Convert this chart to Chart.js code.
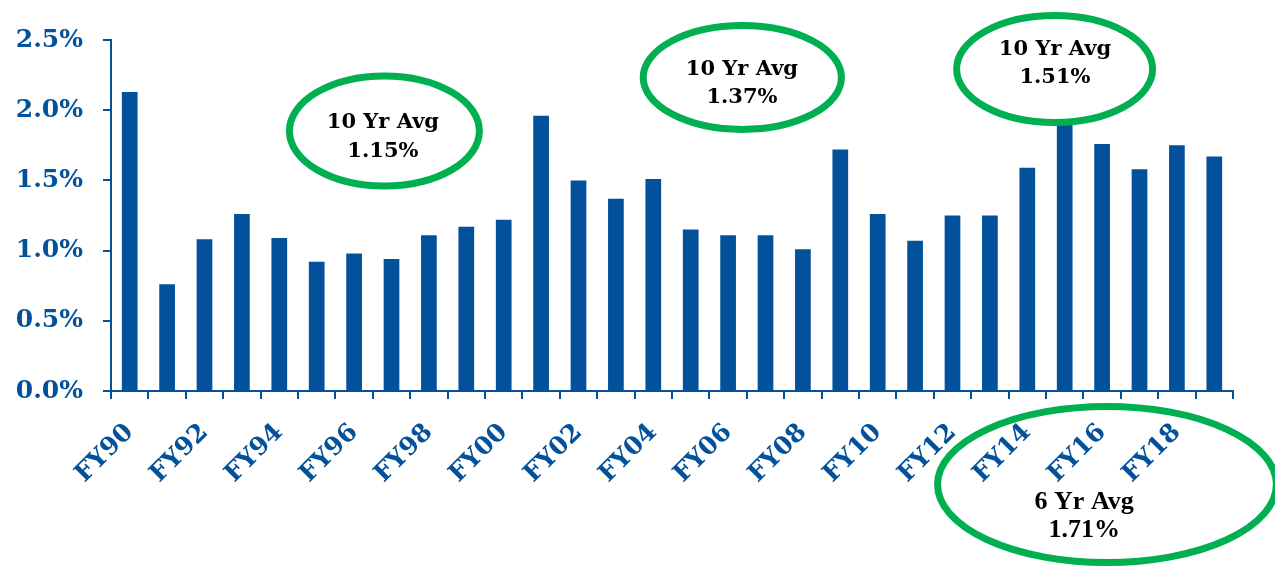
<!DOCTYPE html>
<html>
<head>
<meta charset="utf-8">
<script src="https://cdn.jsdelivr.net/npm/chart.js@4.4.1/dist/chart.umd.min.js"></script>
<style>
  html, body { margin: 0; padding: 0; background: #ffffff; }
  #wrap { width: 1275px; height: 572px; position: relative; }
</style>
</head>
<body>
<div id="wrap"><canvas id="chart" width="1275" height="572"></canvas></div>
<script>
// Fiscal years FY90 .. FY19
const fiscalYears = ['FY90','FY91','FY92','FY93','FY94','FY95','FY96','FY97','FY98','FY99',
                     'FY00','FY01','FY02','FY03','FY04','FY05','FY06','FY07','FY08','FY09',
                     'FY10','FY11','FY12','FY13','FY14','FY15','FY16','FY17','FY18','FY19'];

// Annual rate, percent
const annualRate = [2.13, 0.76, 1.08, 1.26, 1.09, 0.92, 0.98, 0.94, 1.11, 1.17,
                    1.22, 1.96, 1.50, 1.37, 1.51, 1.15, 1.11, 1.11, 1.01, 1.72,
                    1.26, 1.07, 1.25, 1.25, 1.59, 1.93, 1.76, 1.58, 1.75, 1.67];

// Value axis ticks, percent
const yTicks = [0, 0.5, 1.0, 1.5, 2.0, 2.5];

// Period-average callouts
const avgTitles = ['10 Yr Avg', '10 Yr Avg', '10 Yr Avg', '6 Yr Avg'];
const avgValues = ['1.15%', '1.37%', '1.51%', '1.71%'];

const BLUE = '#03519A';
const GREEN = '#00B050';

// Callout placement in scale units (category index / percent)
const calloutShapes = [
  { cx: 6.81,  cy: 1.852, rx: 2.54, ry: 0.392, tx: 6.77,  ty: 1.81,  font: 'bold 21px "DejaVu Serif"', gap: 29 },
  { cx: 16.38, cy: 2.233, rx: 2.65, ry: 0.370, tx: 16.37, ty: 2.19,  font: 'bold 21px "DejaVu Serif"', gap: 28 },
  { cx: 24.73, cy: 2.293, rx: 2.62, ry: 0.381, tx: 24.74, ty: 2.329, font: 'bold 21px "DejaVu Serif"', gap: 28 },
  { cx: 26.13, cy: -0.666, rx: 4.53, ry: 0.556, tx: 25.52, ty: -0.894, font: 'bold 26px "Liberation Serif"', gap: 28 }
];

const calloutPlugin = {
  id: 'callouts',
  afterDraw(chart) {
    const { ctx, scales: { x, y } } = chart;
    const unitX = x.getPixelForValue(1) - x.getPixelForValue(0);
    const unitY = y.getPixelForValue(0) - y.getPixelForValue(1);
    ctx.save();
    calloutShapes.forEach((s, i) => {
      const cx = x.getPixelForValue(s.cx);
      const cy = y.getPixelForValue(s.cy);
      ctx.beginPath();
      ctx.ellipse(cx, cy, s.rx * unitX, s.ry * unitY, 0, 0, Math.PI * 2);
      ctx.strokeStyle = GREEN;
      ctx.lineWidth = 7;
      ctx.stroke();

      const tx = x.getPixelForValue(s.tx);
      const ty = y.getPixelForValue(s.ty);
      ctx.fillStyle = '#000000';
      ctx.font = s.font;
      ctx.textAlign = 'center';
      ctx.textBaseline = 'middle';
      ctx.fillText(avgTitles[i], tx, ty - s.gap / 2);
      ctx.fillText(avgValues[i], tx, ty + s.gap / 2);
    });
    ctx.restore();
  }
};

new Chart(document.getElementById('chart'), {
  type: 'bar',
  data: {
    labels: fiscalYears,
    datasets: [{
      data: annualRate,
      backgroundColor: BLUE,
      borderWidth: 0,
      barPercentage: 0.42,
      categoryPercentage: 1.0
    }]
  },
  options: {
    responsive: false,
    animation: false,
    devicePixelRatio: 1,
    layout: { padding: { top: 40, right: 42, bottom: 0, left: 0 } },
    plugins: {
      legend: { display: false },
      tooltip: { enabled: false }
    },
    scales: {
      x: {
        offset: true,
        grid: {
          offset: true,
          drawOnChartArea: false,
          drawTicks: true,
          tickLength: 8,
          color: BLUE,
          lineWidth: 2
        },
        border: { display: true, color: BLUE, width: 2 },
        ticks: {
          autoSkip: false,
          maxRotation: 45,
          minRotation: 45,
          padding: 19,
          color: BLUE,
          font: { family: 'DejaVu Serif', weight: 'bold', size: 25 },
          callback: (v, i) => (i % 2 === 0 ? fiscalYears[i] : '')
        },
        afterFit(scale) { scale.height = 181; }
      },
      y: {
        min: 0,
        max: 2.5,
        afterBuildTicks(scale) { scale.ticks = yTicks.map(v => ({ value: v })); },
        grid: {
          drawOnChartArea: false,
          drawTicks: true,
          tickLength: 8,
          color: BLUE,
          lineWidth: 2
        },
        border: { display: true, color: BLUE, width: 2 },
        ticks: {
          padding: 20,
          color: BLUE,
          font: { family: 'DejaVu Serif', weight: 'bold', size: 25 },
          callback: v => v.toFixed(1) + '%'
        },
        afterFit(scale) { scale.width = 111; }
      }
    }
  },
  plugins: [calloutPlugin]
});
</script>
</body>
</html>
